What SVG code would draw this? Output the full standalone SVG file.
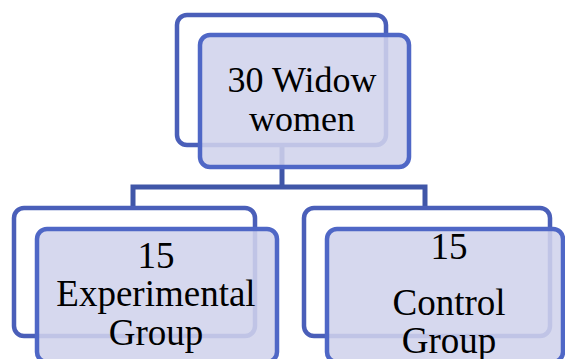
<svg xmlns="http://www.w3.org/2000/svg" width="565" height="359" viewBox="0 0 565 359">
<style>
.back{fill:#ffffff;stroke:#4a5fb9;stroke-width:4.5}
.front{fill:#d0d3ec;fill-opacity:0.88;stroke:#4f67c6;stroke-width:4.5}
.conn{fill:none;stroke:#4056a8;stroke-width:5}
text{font-family:'Liberation Serif','Times New Roman',Tinos,'DejaVu Serif',serif;font-size:36px;fill:#000;text-anchor:middle}
.c{font-size:37px}
</style>
<rect width="565" height="359" fill="#ffffff"/>
<g id="connectors">
<path class="conn" d="M282,145 V187"/>
<path class="conn" d="M133,208 V187 H425 V208"/>
</g>
<g id="root">
<rect class="back" x="177" y="15" width="209" height="130" rx="10"/>
<rect class="front" x="200" y="35" width="209" height="132" rx="10"/>
<text x="302" y="92">30 Widow</text>
<text x="302" y="131">women</text>
</g>
<g id="experimental">
<rect class="back" x="14" y="208" width="241" height="128" rx="10"/>
<rect class="front" x="37" y="229" width="240" height="133" rx="10"/>
<text class="c" x="156" y="268">15</text>
<text class="c" x="156" y="306">Experimental</text>
<text class="c" x="156" y="345">Group</text>
</g>
<g id="control">
<rect class="back" x="304" y="208" width="246" height="128" rx="10"/>
<rect class="front" x="327" y="229" width="236" height="133" rx="10"/>
<text class="c" x="449" y="259">15</text>
<text class="c" x="449" y="315">Control</text>
<text class="c" x="449" y="353">Group</text>
</g>
</svg>
